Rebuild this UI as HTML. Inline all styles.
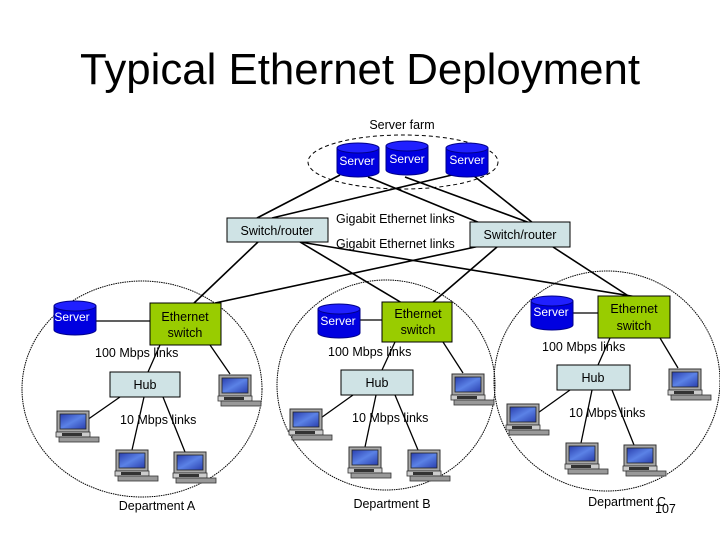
<!DOCTYPE html>
<html><head><meta charset="utf-8"><style>
html,body{margin:0;padding:0;background:#fff;}
svg{display:block;font-family:"Liberation Sans",sans-serif;}
</style></head><body>
<svg width="720" height="540" viewBox="0 0 720 540" xmlns="http://www.w3.org/2000/svg">
<defs>
<linearGradient id="scr" x1="0" y1="0" x2="1" y2="1"><stop offset="0" stop-color="#2a3fae"/><stop offset="0.5" stop-color="#5b82e6"/><stop offset="1" stop-color="#2a3fae"/></linearGradient>
<g id="lap">
<rect x="1" y="0" width="32" height="21" fill="#a8a8a8" stroke="#333" stroke-width="1"/>
<rect x="4" y="3" width="26" height="15" fill="url(#scr)" stroke="#222" stroke-width="0.8"/>
<rect x="0" y="21" width="34" height="5" fill="#ccc" stroke="#333" stroke-width="0.8"/>
<rect x="3" y="26" width="40" height="5" fill="#999" stroke="#333" stroke-width="0.8"/>
<rect x="6" y="22" width="20" height="3" fill="#333"/>
</g>
<g id="srv">
<path d="M0,6 L0,30 A21,5 0 0 0 42,30 L42,6" fill="#0000e0" stroke="#00008a"/>
<ellipse cx="21" cy="6" rx="21" ry="5" fill="#2020ff" stroke="#00008a"/>
</g>
</defs>

<text x="360" y="84" font-size="44" text-anchor="middle" fill="#000" textLength="560" lengthAdjust="spacingAndGlyphs">Typical Ethernet Deployment</text>

<g fill="none" stroke="#000" stroke-width="1" stroke-dasharray="1.5,0.8">
<ellipse cx="142" cy="389" rx="120" ry="108"/>
<ellipse cx="386" cy="385" rx="109" ry="105"/>
<ellipse cx="607" cy="381" rx="113" ry="110"/>
</g>

<text x="402" y="129" font-size="12.5" text-anchor="middle">Server farm</text>
<ellipse cx="403" cy="162" rx="95" ry="27" fill="none" stroke="#000" stroke-dasharray="4,3"/>

<g stroke="#000" stroke-width="1.6" fill="none">
<line x1="340" y1="175" x2="257" y2="218"/>
<line x1="452" y1="175" x2="272" y2="218"/>
<line x1="368" y1="177" x2="480" y2="223"/>
<line x1="405" y1="177" x2="530" y2="223"/>
<line x1="474" y1="176" x2="533" y2="223"/>
<line x1="258" y1="242" x2="193" y2="304"/>
<line x1="300" y1="242" x2="402" y2="303"/>
<line x1="300" y1="242" x2="637" y2="297"/>
<line x1="215" y1="303" x2="480" y2="246"/>
<line x1="497" y1="247" x2="432" y2="303"/>
<line x1="553" y1="247" x2="630" y2="297"/>
</g>

<use href="#srv" x="337" y="142"/>
<use href="#srv" x="386" y="140"/>
<use href="#srv" x="446" y="142"/>
<g font-size="12" fill="#fff" text-anchor="middle">
<text x="357" y="165">Server</text>
<text x="407" y="163">Server</text>
<text x="467" y="164">Server</text>
</g>

<rect x="227" y="218" width="101" height="24" fill="#cfe3e5" stroke="#000"/>
<text x="277" y="235" font-size="12.5" text-anchor="middle">Switch/router</text>
<rect x="470" y="222" width="100" height="25" fill="#cfe3e5" stroke="#000"/>
<text x="520" y="239" font-size="12.5" text-anchor="middle">Switch/router</text>
<text x="336" y="223" font-size="12.5">Gigabit Ethernet links</text>
<text x="336" y="248" font-size="12.5">Gigabit Ethernet links</text>

<g stroke="#000" stroke-width="1.3">
<line x1="96" y1="321" x2="150" y2="321"/>
<line x1="160" y1="345" x2="148" y2="372"/>
<line x1="210" y1="345" x2="230" y2="374"/>
<line x1="120" y1="397" x2="87" y2="420"/>
<line x1="144" y1="397" x2="132" y2="450"/>
<line x1="163" y1="397" x2="185" y2="452"/>
</g>
<use href="#srv" x="54" y="300"/>
<text x="72" y="321" font-size="12" fill="#fff" text-anchor="middle">Server</text>
<rect x="150" y="303" width="71" height="42" fill="#99cc00" stroke="#000"/>
<text x="185" y="321" font-size="12.5" text-anchor="middle">Ethernet</text>
<text x="185" y="337" font-size="12.5" text-anchor="middle">switch</text>
<text x="95" y="357" font-size="12.5">100 Mbps links</text>
<rect x="110" y="372" width="70" height="25" fill="#cfe3e5" stroke="#000"/>
<text x="145" y="389" font-size="12.5" text-anchor="middle">Hub</text>
<text x="120" y="424" font-size="12.5">10 Mbps links</text>
<use href="#lap" x="218" y="375"/>
<use href="#lap" x="56" y="411"/>
<use href="#lap" x="115" y="450"/>
<use href="#lap" x="173" y="452"/>
<text x="157" y="510" font-size="12.5" text-anchor="middle">Department A</text>

<g stroke="#000" stroke-width="1.3">
<line x1="360" y1="320" x2="382" y2="320"/>
<line x1="395" y1="342" x2="382" y2="370"/>
<line x1="443" y1="342" x2="463" y2="373"/>
<line x1="353" y1="395" x2="318" y2="420"/>
<line x1="376" y1="395" x2="365" y2="447"/>
<line x1="395" y1="395" x2="418" y2="450"/>
</g>
<use href="#srv" x="318" y="303"/>
<text x="338" y="325" font-size="12" fill="#fff" text-anchor="middle">Server</text>
<rect x="382" y="302" width="70" height="40" fill="#99cc00" stroke="#000"/>
<text x="418" y="318" font-size="12.5" text-anchor="middle">Ethernet</text>
<text x="418" y="334" font-size="12.5" text-anchor="middle">switch</text>
<text x="328" y="356" font-size="12.5">100 Mbps links</text>
<rect x="341" y="370" width="72" height="25" fill="#cfe3e5" stroke="#000"/>
<text x="377" y="387" font-size="12.5" text-anchor="middle">Hub</text>
<text x="352" y="422" font-size="12.5">10 Mbps links</text>
<use href="#lap" x="451" y="374"/>
<use href="#lap" x="289" y="409"/>
<use href="#lap" x="348" y="447"/>
<use href="#lap" x="407" y="450"/>
<text x="392" y="508" font-size="12.5" text-anchor="middle">Department B</text>

<g stroke="#000" stroke-width="1.3">
<line x1="573" y1="313" x2="598" y2="313"/>
<line x1="610" y1="338" x2="598" y2="365"/>
<line x1="660" y1="338" x2="678" y2="368"/>
<line x1="570" y1="390" x2="535" y2="415"/>
<line x1="592" y1="390" x2="581" y2="443"/>
<line x1="612" y1="390" x2="634" y2="445"/>
</g>
<use href="#srv" x="531" y="295"/>
<text x="551" y="316" font-size="12" fill="#fff" text-anchor="middle">Server</text>
<rect x="598" y="296" width="72" height="42" fill="#99cc00" stroke="#000"/>
<text x="634" y="313" font-size="12.5" text-anchor="middle">Ethernet</text>
<text x="634" y="330" font-size="12.5" text-anchor="middle">switch</text>
<text x="542" y="351" font-size="12.5">100 Mbps links</text>
<rect x="557" y="365" width="73" height="25" fill="#cfe3e5" stroke="#000"/>
<text x="593" y="382" font-size="12.5" text-anchor="middle">Hub</text>
<text x="569" y="417" font-size="12.5">10 Mbps links</text>
<use href="#lap" x="668" y="369"/>
<use href="#lap" x="506" y="404"/>
<use href="#lap" x="565" y="443"/>
<use href="#lap" x="623" y="445"/>
<text x="627" y="506" font-size="12.5" text-anchor="middle">Department C</text>
<text x="655" y="513" font-size="12.5">107</text>
</svg>
</body></html>
